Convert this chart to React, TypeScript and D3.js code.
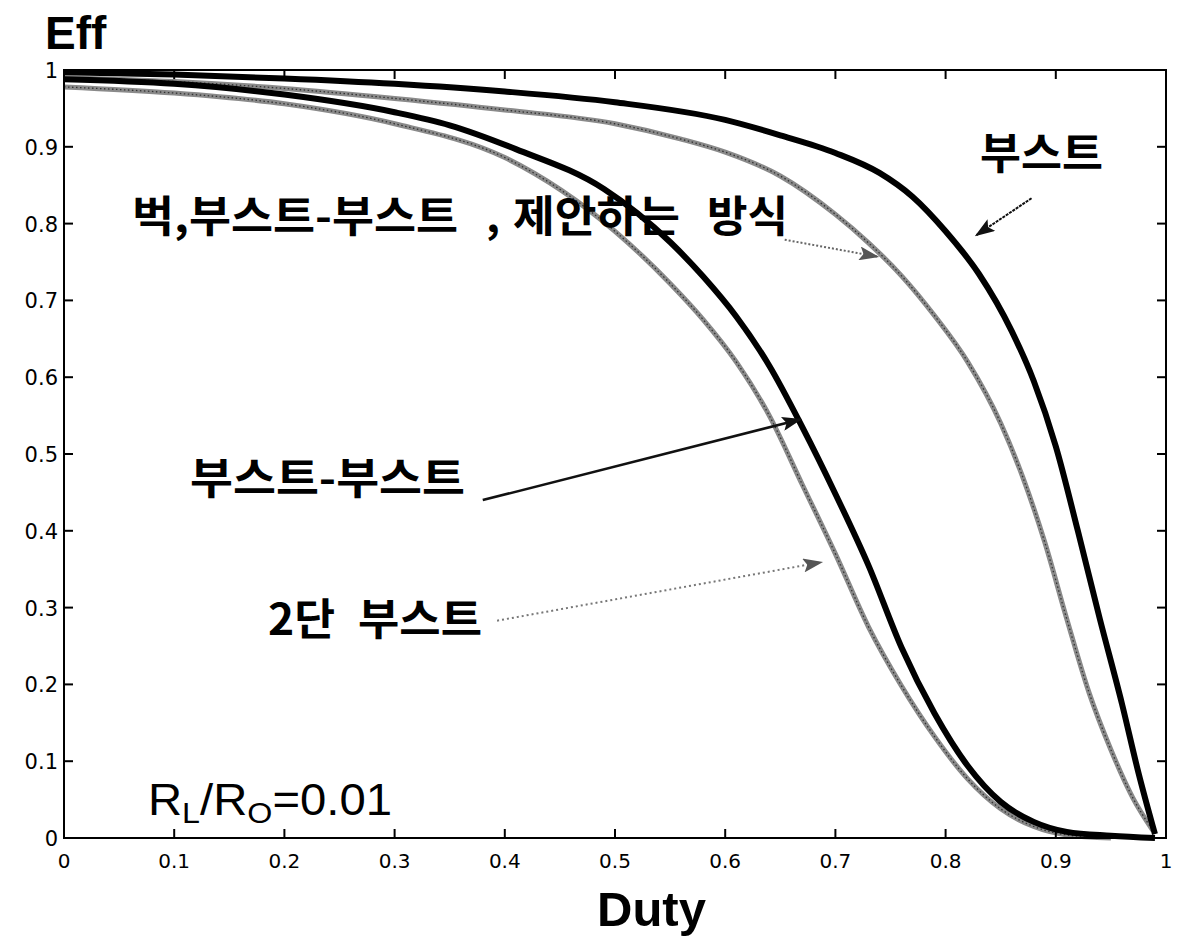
import * as d3 from "d3";

// [duty, eff] pairs
const boostData: [number, number][] = [
  [0, 0.997], [0.1, 0.994], [0.2, 0.989], [0.3, 0.982], [0.4, 0.972], [0.5, 0.958],
  [0.6, 0.935], [0.65, 0.915], [0.7, 0.892], [0.74, 0.866], [0.77, 0.835], [0.8, 0.79],
  [0.83, 0.735], [0.86, 0.66], [0.88, 0.595], [0.9, 0.51], [0.92, 0.4], [0.94, 0.285],
  [0.96, 0.175], [0.975, 0.085], [0.99, 0.005],
];
const proposedData: [number, number][] = [
  [0, 0.99], [0.1, 0.985], [0.2, 0.976], [0.3, 0.963], [0.4, 0.948], [0.5, 0.93],
  [0.56, 0.91], [0.6, 0.893], [0.65, 0.862], [0.7, 0.812], [0.73, 0.775], [0.76, 0.732],
  [0.79, 0.68], [0.82, 0.62], [0.85, 0.54], [0.87, 0.47], [0.89, 0.385], [0.91, 0.285],
  [0.93, 0.19], [0.95, 0.115], [0.97, 0.052], [0.988, 0.01],
];
const boostBoostData: [number, number][] = [
  [0, 0.988], [0.1, 0.982], [0.2, 0.968], [0.3, 0.945], [0.35, 0.928], [0.41, 0.897],
  [0.49, 0.845], [0.55, 0.776], [0.58, 0.731], [0.61, 0.679], [0.64, 0.615], [0.67, 0.535],
  [0.7, 0.448], [0.73, 0.355], [0.76, 0.248], [0.79, 0.162], [0.82, 0.094], [0.85, 0.047],
  [0.88, 0.021], [0.91, 0.008], [0.95, 0.003], [0.99, 0],
];
const twoStageData: [number, number][] = [
  [0, 0.978], [0.1, 0.97], [0.2, 0.956], [0.3, 0.93], [0.4, 0.886], [0.5, 0.79],
  [0.55, 0.722], [0.58, 0.675], [0.61, 0.62], [0.64, 0.55], [0.67, 0.46], [0.7, 0.37],
  [0.73, 0.275], [0.76, 0.198], [0.79, 0.132], [0.82, 0.077], [0.85, 0.038], [0.88, 0.015],
  [0.91, 0.004], [0.95, 0],
];

const xTicks = [0, 0.1, 0.2, 0.3, 0.4, 0.5, 0.6, 0.7, 0.8, 0.9, 1];
const yTicks = [0, 0.1, 0.2, 0.3, 0.4, 0.5, 0.6, 0.7, 0.8, 0.9, 1];
const tickLabels = ["0", "0.1", "0.2", "0.3", "0.4", "0.5", "0.6", "0.7", "0.8", "0.9", "1"];

const W = 1179;
const H = 945;
const plot = { left: 64, right: 1166, top: 70, bottom: 838 };
const korean = "'Noto Sans CJK KR', sans-serif";
const latin = "'Liberation Sans', Arial, sans-serif";
const tickFont = "'DejaVu Sans', sans-serif";

export default function App() {
  const x = d3.scaleLinear().domain([0, 1]).range([plot.left, plot.right]);
  const y = d3.scaleLinear().domain([0, 1]).range([plot.bottom, plot.top]);
  const line = d3
    .line<[number, number]>()
    .x((d) => x(d[0]))
    .y((d) => y(d[1]))
    .curve(d3.curveMonotoneX);

  const tick = 9;

  // arrows given in data coords: [from, to]
  const arrows = [
    { from: [0.878, 0.833], to: [0.828, 0.785], color: "#111", dash: "3,1", w: 2, m: "headBlack" },
    { from: [0.654, 0.779], to: [0.738, 0.757], color: "#666", dash: "2,2", w: 2, m: "headGray" },
    { from: [0.38, 0.44], to: [0.668, 0.545], color: "#111", dash: null, w: 2.5, m: "headBlack" },
    { from: [0.393, 0.283], to: [0.687, 0.359], color: "#777", dash: "2,3", w: 2, m: "headGray" },
  ];

  return (
    <div style={{ position: "absolute", left: 0, top: 0 }}>
      <svg width={W} height={H} style={{ display: "block", background: "#fff" }}>
        <defs>
          <marker id="headBlack" markerUnits="userSpaceOnUse" markerWidth={20} markerHeight={14}
            refX={18} refY={7} orient="auto">
            <path d="M0,0 L20,7 L0,14 L4,7 Z" fill="#111" />
          </marker>
          <marker id="headGray" markerUnits="userSpaceOnUse" markerWidth={20} markerHeight={14}
            refX={18} refY={7} orient="auto">
            <path d="M0,0 L20,7 L0,14 L4,7 Z" fill="#555" />
          </marker>
        </defs>

        {/* curves */}
        <path d={line(twoStageData) ?? ""} fill="none" stroke="#8a8a8a" strokeWidth={5} />
        <path d={line(twoStageData) ?? ""} fill="none" stroke="#333" strokeWidth={1.3} strokeDasharray="1.5,2.5" />
        <path d={line(proposedData) ?? ""} fill="none" stroke="#8a8a8a" strokeWidth={5} />
        <path d={line(proposedData) ?? ""} fill="none" stroke="#333" strokeWidth={1.3} strokeDasharray="1.5,2.5" />
        <path d={line(boostBoostData) ?? ""} fill="none" stroke="#000" strokeWidth={6} />
        <path d={line(boostData) ?? ""} fill="none" stroke="#000" strokeWidth={6} />

        {/* axes box */}
        <rect x={plot.left} y={plot.top} width={plot.right - plot.left} height={plot.bottom - plot.top}
          fill="none" stroke="#000" strokeWidth={2} />
        {xTicks.map((t) => (
          <g key={"xt" + t}>
            <line x1={x(t)} x2={x(t)} y1={plot.bottom} y2={plot.bottom - tick} stroke="#000" strokeWidth={2} />
            <line x1={x(t)} x2={x(t)} y1={plot.top} y2={plot.top + tick} stroke="#000" strokeWidth={2} />
          </g>
        ))}
        {yTicks.map((t) => (
          <g key={"yt" + t}>
            <line x1={plot.left} x2={plot.left + tick} y1={y(t)} y2={y(t)} stroke="#000" strokeWidth={2} />
            <line x1={plot.right} x2={plot.right - tick} y1={y(t)} y2={y(t)} stroke="#000" strokeWidth={2} />
          </g>
        ))}
        {xTicks.map((t, i) => (
          <text key={"xl" + t} x={x(t)} y={plot.bottom + 30} textAnchor="middle"
            fontFamily={tickFont} fontSize={20} fill="#000">
            {tickLabels[i]}
          </text>
        ))}
        {yTicks.map((t, i) => (
          <text key={"yl" + t} x={plot.left - 6} y={y(t) + 8} textAnchor="end"
            fontFamily={tickFont} fontSize={21} fill="#000">
            {tickLabels[i]}
          </text>
        ))}

        {/* axis titles */}
        <text x={45} y={49} fontFamily={latin} fontWeight="bold" fontSize={46} fill="#000">Eff</text>
        <text x={597} y={926} fontFamily={latin} fontWeight="bold" fontSize={49} fill="#000">Duty</text>

        {/* arrows */}
        {arrows.map((a, i) => (
          <line key={"ar" + i} x1={x(a.from[0])} y1={y(a.from[1])} x2={x(a.to[0])} y2={y(a.to[1])}
            stroke={a.color} strokeWidth={a.w} strokeDasharray={a.dash ?? undefined}
            markerEnd={`url(#${a.m})`} />
        ))}

        {/* labels */}
        <g fontFamily={korean} fontWeight="bold" fontSize={43} fill="#000">
          <text x={980} y={169} textLength={123} lengthAdjust="spacingAndGlyphs">부스트</text>
          <text x={132} y={232} textLength={326} lengthAdjust="spacingAndGlyphs">벅,부스트-부스트</text>
          <text x={486} y={232}>,</text>
          <text x={513} y={232} textLength={167} lengthAdjust="spacingAndGlyphs">제안하는</text>
          <text x={707} y={232} textLength={81} lengthAdjust="spacingAndGlyphs">방식</text>
          <text x={190} y={494} textLength={275} lengthAdjust="spacingAndGlyphs">부스트-부스트</text>
          <text x={268} y={635} textLength={67} lengthAdjust="spacingAndGlyphs">2단</text>
          <text x={358} y={635} textLength={124} lengthAdjust="spacingAndGlyphs">부스트</text>
        </g>
        <text x={148} y={815} fontFamily={latin} fontSize={44} fill="#000" textLength={244}
          lengthAdjust="spacingAndGlyphs">
          R<tspan fontSize={30} dy={8}>L</tspan>
          <tspan dy={-8}>/R</tspan>
          <tspan fontSize={30} dy={8}>O</tspan>
          <tspan dy={-8}>=0.01</tspan>
        </text>
      </svg>
    </div>
  );
}
